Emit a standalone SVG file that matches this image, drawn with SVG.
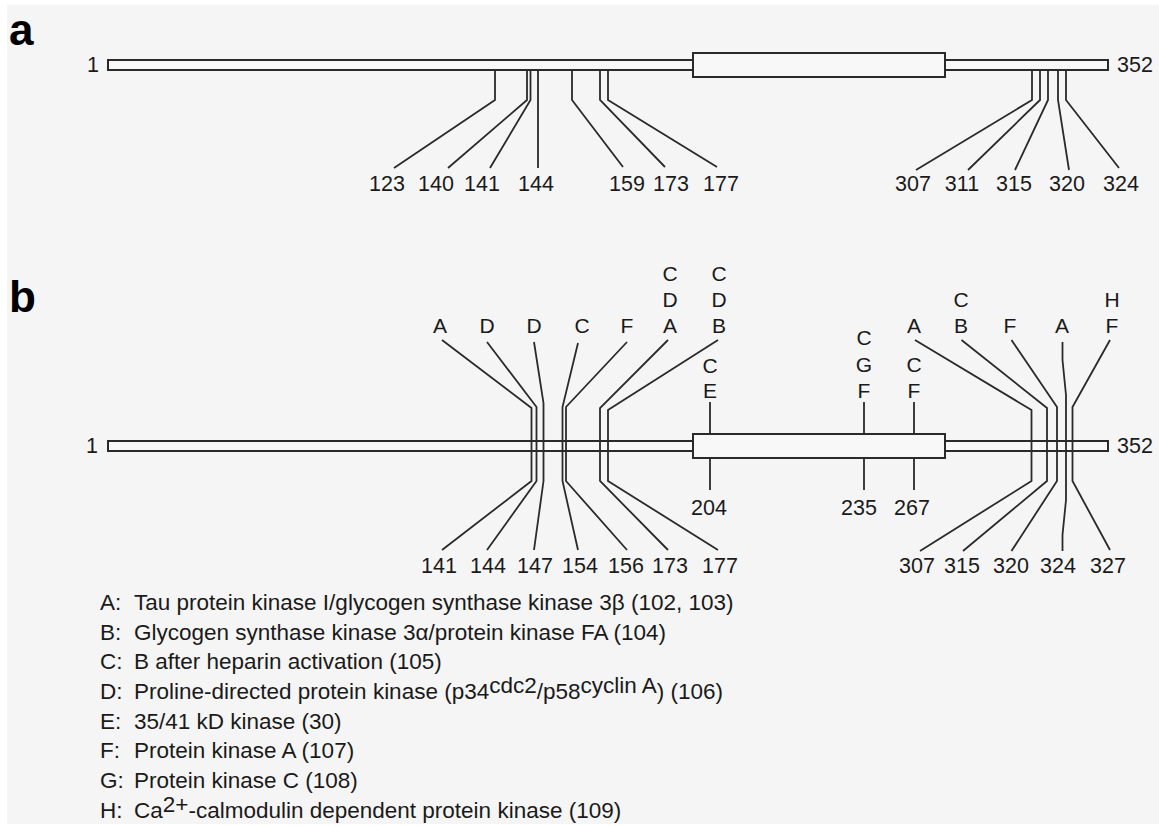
<svg xmlns="http://www.w3.org/2000/svg" width="1159" height="826" viewBox="0 0 1159 826">
<style>
.bg{fill:#f5f5f5}
.bar{fill:#f8f8f8;stroke:#2a2a2a;stroke-width:2}
.ln{fill:none;stroke:#2a2a2a;stroke-width:1.8;stroke-linejoin:miter}
.num{font-family:"Liberation Sans",Arial,sans-serif;font-size:21.5px;fill:#1a1a1a;text-anchor:middle}
.end{font-family:"Liberation Sans",Arial,sans-serif;font-size:21.5px;fill:#1a1a1a}
.lt{font-family:"Liberation Sans",Arial,sans-serif;font-size:21px;fill:#1a1a1a;text-anchor:middle}
.pan{font-family:"Liberation Sans",Arial,sans-serif;font-size:44px;font-weight:bold;fill:#000}
.leg{font-family:"Liberation Sans",Arial,sans-serif;font-size:22.5px;fill:#1a1a1a}
</style>
<rect class="bg" x="7" y="5" width="1152" height="819"/>

<g id="panel-a">
  <text class="pan" x="9" y="45">a</text>
  <g id="a-protein">
    <rect class="bar" x="108" y="60" width="1000" height="10"/>
    <rect class="bar" x="693" y="53" width="252" height="24"/>
    <text class="end" x="99" y="72" text-anchor="end">1</text>
    <text class="end" x="1117" y="72">352</text>
  </g>
  <g id="a-connectors">
    <polyline class="ln" points="495,71 495,100 394,168"/>
    <polyline class="ln" points="527,71 527,100 448,168"/>
    <polyline class="ln" points="530.5,71 530.5,100 490,168"/>
    <polyline class="ln" points="538,71 538,168"/>
    <polyline class="ln" points="572,71 572,100 623,167"/>
    <polyline class="ln" points="600,71 600,100 665,167"/>
    <polyline class="ln" points="608,71 608,100 717,167"/>
    <polyline class="ln" points="1032,71 1032,100 916,170"/>
    <polyline class="ln" points="1040,71 1040,100 968,170"/>
    <polyline class="ln" points="1048,71 1048,100 1015,170"/>
    <polyline class="ln" points="1058,71 1058,100 1069,170"/>
    <polyline class="ln" points="1066,71 1066,100 1119,168"/>
  </g>
  <g id="a-labels">
    <text class="num" x="387" y="191">123</text>
    <text class="num" x="436" y="191">140</text>
    <text class="num" x="482" y="191">141</text>
    <text class="num" x="536" y="191">144</text>
    <text class="num" x="627" y="191">159</text>
    <text class="num" x="671" y="191">173</text>
    <text class="num" x="721" y="191">177</text>
    <text class="num" x="913" y="191">307</text>
    <text class="num" x="962" y="191">311</text>
    <text class="num" x="1014" y="191">315</text>
    <text class="num" x="1067" y="191">320</text>
    <text class="num" x="1121" y="191">324</text>
  </g>
</g>

<g id="panel-b">
  <text class="pan" x="9" y="312">b</text>
  <g id="b-protein">
    <rect class="bar" x="108" y="441" width="1000" height="10"/>
    <rect class="bar" x="693" y="434" width="252" height="24"/>
    <text class="end" x="98" y="453" text-anchor="end">1</text>
    <text class="end" x="1117" y="453">352</text>
  </g>
  <g id="b-connectors">
    <polyline class="ln" points="442,340 531.5,408 531.5,481 442,550"/>
    <polyline class="ln" points="487,342 536.5,407 536.5,481 487,550"/>
    <polyline class="ln" points="534,342 543.5,403 543.5,481 534,550"/>
    <polyline class="ln" points="578,343 562.5,407 562.5,481 578,550"/>
    <polyline class="ln" points="627,342 566,407 566,481 627,550"/>
    <polyline class="ln" points="668,340 600,408 600,481 668,550"/>
    <polyline class="ln" points="718,340 608,410 608,481 718,550"/>
    <line class="ln" x1="710" y1="402" x2="710" y2="434"/>
    <line class="ln" x1="710" y1="458" x2="710" y2="490"/>
    <line class="ln" x1="864" y1="402" x2="864" y2="434"/>
    <line class="ln" x1="864" y1="458" x2="864" y2="490"/>
    <line class="ln" x1="914" y1="402" x2="914" y2="434"/>
    <line class="ln" x1="914" y1="458" x2="914" y2="490"/>
    <polyline class="ln" points="915,340 1031.5,410 1031.5,481 920,551"/>
    <polyline class="ln" points="961.5,340 1047,408 1047,481 963,551"/>
    <polyline class="ln" points="1011.5,340 1057,407 1057,481 1011.5,551"/>
    <polyline class="ln" points="1062.5,342 1062.5,360 1066,395 1066,500 1062.5,535 1062.5,551"/>
    <polyline class="ln" points="1110,340 1072.5,407 1072.5,481 1110,550"/>
  </g>
  <g id="b-top-labels">
    <text class="lt" x="440" y="333">A</text>
    <text class="lt" x="487" y="333">D</text>
    <text class="lt" x="534" y="333">D</text>
    <text class="lt" x="582" y="333">C</text>
    <text class="lt" x="627" y="333">F</text>
    <text class="lt" x="670" y="281">C</text>
    <text class="lt" x="670" y="307">D</text>
    <text class="lt" x="670" y="333">A</text>
    <text class="lt" x="719" y="281">C</text>
    <text class="lt" x="719" y="307">D</text>
    <text class="lt" x="719" y="333">B</text>
    <text class="lt" x="710" y="373">C</text>
    <text class="lt" x="710" y="398">E</text>
    <text class="lt" x="864" y="345">C</text>
    <text class="lt" x="864" y="372">G</text>
    <text class="lt" x="864" y="398">F</text>
    <text class="lt" x="914" y="372">C</text>
    <text class="lt" x="914" y="398">F</text>
    <text class="lt" x="914" y="333">A</text>
    <text class="lt" x="961" y="307">C</text>
    <text class="lt" x="961" y="333">B</text>
    <text class="lt" x="1010" y="333">F</text>
    <text class="lt" x="1062" y="333">A</text>
    <text class="lt" x="1112" y="307">H</text>
    <text class="lt" x="1112" y="333">F</text>
  </g>
  <g id="b-bottom-labels">
    <text class="num" x="439" y="573">141</text>
    <text class="num" x="488" y="573">144</text>
    <text class="num" x="535" y="573">147</text>
    <text class="num" x="580" y="573">154</text>
    <text class="num" x="626" y="573">156</text>
    <text class="num" x="670" y="573">173</text>
    <text class="num" x="720" y="573">177</text>
    <text class="num" x="709" y="515">204</text>
    <text class="num" x="859" y="515">235</text>
    <text class="num" x="912" y="515">267</text>
    <text class="num" x="917" y="573">307</text>
    <text class="num" x="962" y="573">315</text>
    <text class="num" x="1011" y="573">320</text>
    <text class="num" x="1058" y="573">324</text>
    <text class="num" x="1108" y="573">327</text>
  </g>
</g>

<g id="legend">
  <text class="leg" x="100" y="610">A:</text><text class="leg" x="134" y="610">Tau protein kinase I/glycogen synthase kinase 3β (102, 103)</text>
  <text class="leg" x="100" y="640">B:</text><text class="leg" x="134" y="640">Glycogen synthase kinase 3α/protein kinase FA (104)</text>
  <text class="leg" x="100" y="669">C:</text><text class="leg" x="134" y="669">B after heparin activation (105)</text>
  <text class="leg" x="100" y="699">D:</text><text class="leg" x="134" y="699">Proline-directed protein kinase (p34<tspan dy="-6">cdc2</tspan><tspan dy="6">/p58</tspan><tspan dy="-6">cyclin A</tspan><tspan dy="6">) (106)</tspan></text>
  <text class="leg" x="100" y="729">E:</text><text class="leg" x="134" y="729">35/41 kD kinase (30)</text>
  <text class="leg" x="100" y="758">F:</text><text class="leg" x="134" y="758">Protein kinase A (107)</text>
  <text class="leg" x="100" y="788">G:</text><text class="leg" x="134" y="788">Protein kinase C (108)</text>
  <text class="leg" x="100" y="818">H:</text><text class="leg" x="134" y="818">Ca<tspan dy="-6">2+</tspan><tspan dy="6">-calmodulin dependent protein kinase (109)</tspan></text>
</g>
</svg>
